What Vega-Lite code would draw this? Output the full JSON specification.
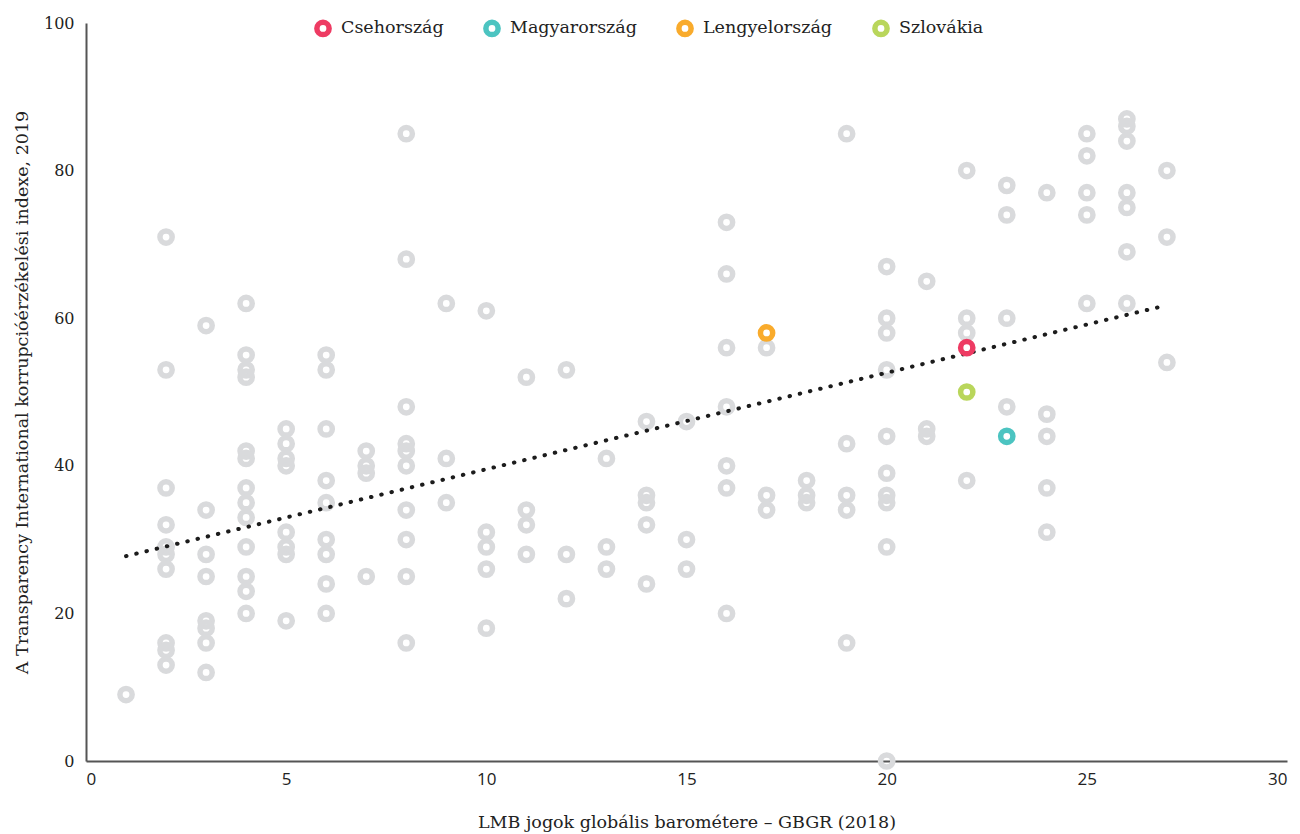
{
  "$schema": "https://vega.github.io/schema/vega-lite/v6.json",
  "width": 1201,
  "height": 738,
  "autosize": {"type": "none"},
  "padding": {"left": 86, "top": 23, "right": 13, "bottom": 73},
  "background": "white",
  "config": {
    "view": {"stroke": null},
    "font": "DejaVu Serif",
    "axis": {
      "grid": false,
      "ticks": false,
      "domainColor": "#555555",
      "domainWidth": 2,
      "labelFont": "DejaVu Serif",
      "labelFontSize": 16,
      "labelColor": "#222222",
      "titleFont": "DejaVu Serif",
      "titleFontSize": 17.5,
      "titleFontWeight": "normal",
      "titleColor": "#222222"
    }
  },
  "data": {
    "values": [
      {"x": 1, "y": 9, "c": ""},
      {"x": 2, "y": 71, "c": ""}, {"x": 2, "y": 53, "c": ""}, {"x": 2, "y": 37, "c": ""}, {"x": 2, "y": 32, "c": ""}, {"x": 2, "y": 29, "c": ""}, {"x": 2, "y": 28, "c": ""}, {"x": 2, "y": 26, "c": ""}, {"x": 2, "y": 16, "c": ""}, {"x": 2, "y": 15, "c": ""}, {"x": 2, "y": 13, "c": ""},
      {"x": 3, "y": 59, "c": ""}, {"x": 3, "y": 34, "c": ""}, {"x": 3, "y": 28, "c": ""}, {"x": 3, "y": 25, "c": ""}, {"x": 3, "y": 19, "c": ""}, {"x": 3, "y": 18, "c": ""}, {"x": 3, "y": 16, "c": ""}, {"x": 3, "y": 12, "c": ""},
      {"x": 4, "y": 62, "c": ""}, {"x": 4, "y": 55, "c": ""}, {"x": 4, "y": 53, "c": ""}, {"x": 4, "y": 52, "c": ""}, {"x": 4, "y": 42, "c": ""}, {"x": 4, "y": 41, "c": ""}, {"x": 4, "y": 37, "c": ""}, {"x": 4, "y": 35, "c": ""}, {"x": 4, "y": 33, "c": ""}, {"x": 4, "y": 29, "c": ""}, {"x": 4, "y": 25, "c": ""}, {"x": 4, "y": 23, "c": ""}, {"x": 4, "y": 20, "c": ""},
      {"x": 5, "y": 45, "c": ""}, {"x": 5, "y": 43, "c": ""}, {"x": 5, "y": 41, "c": ""}, {"x": 5, "y": 40, "c": ""}, {"x": 5, "y": 31, "c": ""}, {"x": 5, "y": 29, "c": ""}, {"x": 5, "y": 28, "c": ""}, {"x": 5, "y": 19, "c": ""},
      {"x": 6, "y": 55, "c": ""}, {"x": 6, "y": 53, "c": ""}, {"x": 6, "y": 45, "c": ""}, {"x": 6, "y": 38, "c": ""}, {"x": 6, "y": 35, "c": ""}, {"x": 6, "y": 30, "c": ""}, {"x": 6, "y": 28, "c": ""}, {"x": 6, "y": 24, "c": ""}, {"x": 6, "y": 20, "c": ""},
      {"x": 7, "y": 42, "c": ""}, {"x": 7, "y": 40, "c": ""}, {"x": 7, "y": 39, "c": ""}, {"x": 7, "y": 25, "c": ""},
      {"x": 8, "y": 85, "c": ""}, {"x": 8, "y": 68, "c": ""}, {"x": 8, "y": 48, "c": ""}, {"x": 8, "y": 43, "c": ""}, {"x": 8, "y": 42, "c": ""}, {"x": 8, "y": 40, "c": ""}, {"x": 8, "y": 34, "c": ""}, {"x": 8, "y": 30, "c": ""}, {"x": 8, "y": 25, "c": ""}, {"x": 8, "y": 16, "c": ""},
      {"x": 9, "y": 62, "c": ""}, {"x": 9, "y": 41, "c": ""}, {"x": 9, "y": 35, "c": ""},
      {"x": 10, "y": 61, "c": ""}, {"x": 10, "y": 31, "c": ""}, {"x": 10, "y": 29, "c": ""}, {"x": 10, "y": 26, "c": ""}, {"x": 10, "y": 18, "c": ""},
      {"x": 11, "y": 52, "c": ""}, {"x": 11, "y": 34, "c": ""}, {"x": 11, "y": 32, "c": ""}, {"x": 11, "y": 28, "c": ""},
      {"x": 12, "y": 53, "c": ""}, {"x": 12, "y": 28, "c": ""}, {"x": 12, "y": 22, "c": ""},
      {"x": 13, "y": 41, "c": ""}, {"x": 13, "y": 29, "c": ""}, {"x": 13, "y": 26, "c": ""},
      {"x": 14, "y": 46, "c": ""}, {"x": 14, "y": 36, "c": ""}, {"x": 14, "y": 35, "c": ""}, {"x": 14, "y": 32, "c": ""}, {"x": 14, "y": 24, "c": ""},
      {"x": 15, "y": 46, "c": ""}, {"x": 15, "y": 30, "c": ""}, {"x": 15, "y": 26, "c": ""},
      {"x": 16, "y": 73, "c": ""}, {"x": 16, "y": 66, "c": ""}, {"x": 16, "y": 56, "c": ""}, {"x": 16, "y": 48, "c": ""}, {"x": 16, "y": 40, "c": ""}, {"x": 16, "y": 37, "c": ""}, {"x": 16, "y": 20, "c": ""},
      {"x": 17, "y": 56, "c": ""}, {"x": 17, "y": 36, "c": ""}, {"x": 17, "y": 34, "c": ""},
      {"x": 18, "y": 38, "c": ""}, {"x": 18, "y": 36, "c": ""}, {"x": 18, "y": 35, "c": ""},
      {"x": 19, "y": 85, "c": ""}, {"x": 19, "y": 43, "c": ""}, {"x": 19, "y": 36, "c": ""}, {"x": 19, "y": 34, "c": ""}, {"x": 19, "y": 16, "c": ""},
      {"x": 20, "y": 67, "c": ""}, {"x": 20, "y": 60, "c": ""}, {"x": 20, "y": 58, "c": ""}, {"x": 20, "y": 53, "c": ""}, {"x": 20, "y": 44, "c": ""}, {"x": 20, "y": 39, "c": ""}, {"x": 20, "y": 36, "c": ""}, {"x": 20, "y": 35, "c": ""}, {"x": 20, "y": 29, "c": ""}, {"x": 20, "y": 0, "c": ""},
      {"x": 21, "y": 65, "c": ""}, {"x": 21, "y": 45, "c": ""}, {"x": 21, "y": 44, "c": ""},
      {"x": 22, "y": 80, "c": ""}, {"x": 22, "y": 60, "c": ""}, {"x": 22, "y": 58, "c": ""}, {"x": 22, "y": 38, "c": ""},
      {"x": 23, "y": 78, "c": ""}, {"x": 23, "y": 74, "c": ""}, {"x": 23, "y": 60, "c": ""}, {"x": 23, "y": 48, "c": ""},
      {"x": 24, "y": 77, "c": ""}, {"x": 24, "y": 47, "c": ""}, {"x": 24, "y": 44, "c": ""}, {"x": 24, "y": 37, "c": ""}, {"x": 24, "y": 31, "c": ""},
      {"x": 25, "y": 85, "c": ""}, {"x": 25, "y": 82, "c": ""}, {"x": 25, "y": 77, "c": ""}, {"x": 25, "y": 74, "c": ""}, {"x": 25, "y": 62, "c": ""},
      {"x": 26, "y": 87, "c": ""}, {"x": 26, "y": 86, "c": ""}, {"x": 26, "y": 84, "c": ""}, {"x": 26, "y": 77, "c": ""}, {"x": 26, "y": 75, "c": ""}, {"x": 26, "y": 69, "c": ""}, {"x": 26, "y": 62, "c": ""},
      {"x": 27, "y": 80, "c": ""}, {"x": 27, "y": 71, "c": ""}, {"x": 27, "y": 54, "c": ""},
      {"x": 22, "y": 56, "c": "Csehország"},
      {"x": 23, "y": 44, "c": "Magyarország"},
      {"x": 17, "y": 58, "c": "Lengyelország"},
      {"x": 22, "y": 50, "c": "Szlovákia"}
    ]
  },
  "encoding": {
    "x": {
      "field": "x",
      "type": "quantitative",
      "scale": {"domain": [0, 30], "nice": false},
      "axis": {"values": [0, 5, 10, 15, 20, 25, 30], "labelFont": "Open Sans", "labelFontSize": 17, "labelPadding": 10, "title": "LMB jogok globális barométere – GBGR (2018)", "titlePadding": 26}
    },
    "y": {
      "field": "y",
      "type": "quantitative",
      "scale": {"domain": [0, 100], "nice": false},
      "axis": {"values": [0, 20, 40, 60, 80, 100], "labelPadding": 12, "title": "A Transparency International korrupcióérzékelési indexe, 2019", "titlePadding": 12}
    }
  },
  "layer": [
    {
      "transform": [{"filter": "datum.c == ''"}],
      "mark": {"type": "point", "filled": false, "size": 150, "strokeWidth": 5.5, "color": "#d9dadc", "opacity": 1, "clip": false}
    },
    {
      "transform": [{"regression": "y", "on": "x"}],
      "mark": {"type": "line", "strokeDash": [0.5, 10], "strokeCap": "round", "strokeWidth": 4, "color": "#1c1c1c"}
    },
    {
      "transform": [{"filter": "datum.c != ''"}],
      "mark": {"type": "point", "filled": false, "size": 150, "strokeWidth": 5.5, "opacity": 1},
      "encoding": {
        "color": {
          "field": "c",
          "type": "nominal",
          "scale": {"domain": ["Csehország", "Magyarország", "Lengyelország", "Szlovákia"], "range": ["#ee3b63", "#4cc4c1", "#f9ab2c", "#b9d65b"]},
          "legend": {
            "title": null,
            "orient": "none",
            "direction": "horizontal",
            "legendX": 228,
            "legendY": -4,
            "symbolType": "circle",
            "symbolSize": 150,
            "symbolStrokeWidth": 5.5,
            "symbolFillColor": "white",
            "labelFont": "DejaVu Serif",
            "labelFontSize": 17.5,
            "labelColor": "#222222",
            "labelOffset": 9,
            "columnPadding": 30
          }
        }
      }
    }
  ]
}
